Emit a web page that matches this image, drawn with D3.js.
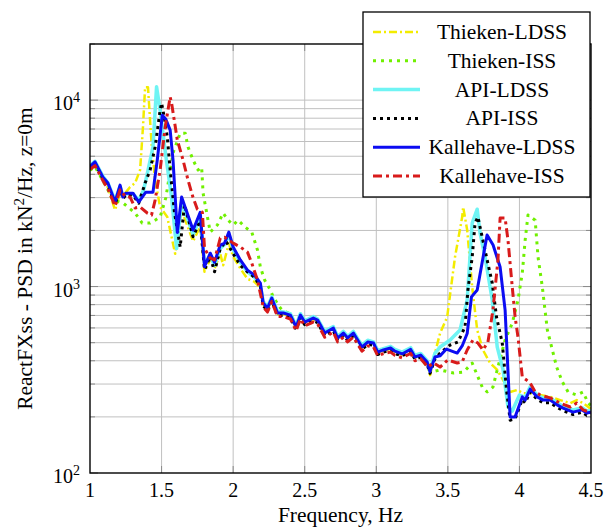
<!DOCTYPE html>
<html>
<head>
<meta charset="utf-8">
<script src="https://cdn.jsdelivr.net/npm/d3@7"></script>
<style>
  body { margin: 0; background: #fff; }
  svg { display: block; }
  text { font-family: "Liberation Serif", "Times New Roman", Times, serif; }
</style>
</head>
<body>
<div id="chart"></div>
<script>
// tick values
const xTicks = [1, 1.5, 2, 2.5, 3, 3.5, 4, 4.5];
const yMajor = [100, 1000, 10000];
const seriesNames = ["Thieken-LDSS", "Thieken-ISS", "API-LDSS", "API-ISS", "Kallehave-LDSS", "Kallehave-ISS"];

// [frequency Hz, PSD kN^2/Hz]
const thiekenLDSS = [[1.00,4300],[1.035,4550],[1.09,3750],[1.125,3400],[1.175,2570],[1.21,3170],[1.25,3200],[1.28,3420],[1.315,3590],[1.35,4220],[1.37,7160],[1.385,11740],[1.405,11740],[1.43,5880],[1.455,3720],[1.49,2670],[1.54,2360],[1.595,1500],[1.64,2570],[1.72,1750],[1.77,2100],[1.80,1200],[1.84,1400],[1.87,1250],[1.91,1500],[1.93,1300],[1.97,1700],[2.00,1450],[2.05,1250],[2.10,1100],[2.15,1060],[2.19,980],[2.21,800],[2.24,755],[2.27,850],[2.31,710],[2.35,712],[2.40,695],[2.44,600],[2.47,695],[2.50,640],[2.56,670],[2.59,655],[2.64,558],[2.70,592],[2.73,524],[2.77,558],[2.80,525],[2.84,558],[2.87,512],[2.90,470],[2.94,500],[2.98,494],[3.01,442],[3.05,452],[3.10,463],[3.13,446],[3.18,432],[3.24,456],[3.27,416],[3.31,426],[3.355,392],[3.376,335],[3.41,440],[3.446,563],[3.495,686],[3.55,1440],[3.60,2360],[3.607,2670],[3.635,2010],[3.67,994],[3.705,585],[3.745,457],[3.795,389],[3.845,357],[3.886,315],[3.935,272],[3.985,279],[4.026,268],[4.096,268],[4.145,262],[4.215,256],[4.285,246],[4.355,237],[4.40,246],[4.445,237],[4.49,223],[4.50,222]];

const thiekenISS = [[1.00,4200],[1.035,4400],[1.09,3700],[1.125,3300],[1.16,2910],[1.23,2810],[1.315,2480],[1.365,2190],[1.42,2190],[1.455,2270],[1.49,2360],[1.53,3000],[1.58,5200],[1.63,6650],[1.665,6650],[1.685,5600],[1.72,4770],[1.755,4220],[1.78,4370],[1.79,3170],[1.84,1960],[1.89,2140],[1.93,2480],[1.965,2270],[2.00,2140],[2.035,2270],[2.085,2080],[2.13,1960],[2.17,1570],[2.19,1273],[2.22,1084],[2.26,958],[2.28,879],[2.33,767],[2.35,740],[2.40,715],[2.44,620],[2.47,710],[2.50,650],[2.56,685],[2.59,665],[2.64,570],[2.70,605],[2.73,535],[2.77,570],[2.80,535],[2.84,570],[2.87,520],[2.90,480],[2.94,510],[2.98,500],[3.01,450],[3.05,460],[3.10,470],[3.13,452],[3.18,440],[3.24,462],[3.27,420],[3.31,430],[3.36,360],[3.40,350],[3.446,357],[3.54,344],[3.61,348],[3.67,389],[3.705,335],[3.74,289],[3.775,272],[3.815,289],[3.85,370],[3.90,517],[3.95,637],[3.99,847],[4.02,1180],[4.04,1775],[4.06,2420],[4.11,2270],[4.13,1440],[4.16,994],[4.195,585],[4.23,457],[4.26,370],[4.30,308],[4.34,272],[4.40,262],[4.445,272],[4.48,237],[4.50,230]];

const apiLDSS = [[1.00,4450],[1.035,4700],[1.09,3900],[1.125,3600],[1.175,2900],[1.21,3450],[1.23,3050],[1.25,3150],[1.30,3150],[1.34,2900],[1.375,3300],[1.405,4200],[1.44,5600],[1.465,11800],[1.49,8800],[1.53,5000],[1.57,3000],[1.605,1600],[1.64,2850],[1.72,1900],[1.77,2350],[1.80,1350],[1.84,1450],[1.87,1300],[1.91,1600],[1.94,1680],[1.97,1900],[2.00,1580],[2.05,1350],[2.10,1200],[2.15,1120],[2.19,1020],[2.21,830],[2.24,780],[2.27,880],[2.31,735],[2.35,730],[2.40,715],[2.44,620],[2.47,715],[2.50,655],[2.56,690],[2.59,670],[2.64,575],[2.70,610],[2.73,540],[2.77,575],[2.80,540],[2.84,575],[2.87,525],[2.90,485],[2.94,515],[2.98,505],[3.01,455],[3.05,465],[3.10,478],[3.13,460],[3.18,445],[3.24,470],[3.27,428],[3.31,438],[3.355,400],[3.375,355],[3.41,440],[3.446,474],[3.516,517],[3.585,585],[3.635,847],[3.67,2190],[3.705,2600],[3.725,1935],[3.76,1440],[3.81,847],[3.845,474],[3.886,357],[3.92,226],[3.95,215],[4.00,262],[4.04,255],[4.075,290],[4.124,262],[4.166,252],[4.215,252],[4.263,238],[4.305,228],[4.375,218],[4.438,224],[4.47,215],[4.50,216]];

const apiISS = [[1.00,4350],[1.035,4600],[1.09,3800],[1.125,3500],[1.175,2750],[1.21,3400],[1.23,2950],[1.25,3100],[1.30,3100],[1.34,2800],[1.385,3590],[1.42,4220],[1.455,5600],[1.49,8840],[1.50,9640],[1.52,8000],[1.54,6340],[1.56,4220],[1.59,2500],[1.63,1630],[1.66,2750],[1.72,1850],[1.77,2250],[1.80,1230],[1.84,1450],[1.87,1200],[1.91,1600],[1.95,1750],[1.97,1650],[2.00,1500],[2.05,1300],[2.10,1200],[2.15,1120],[2.19,1000],[2.21,790],[2.24,740],[2.27,840],[2.31,700],[2.35,700],[2.40,680],[2.44,590],[2.47,680],[2.50,625],[2.56,655],[2.59,640],[2.64,545],[2.70,580],[2.73,515],[2.77,545],[2.80,515],[2.84,545],[2.87,500],[2.90,460],[2.94,490],[2.98,485],[3.01,432],[3.05,445],[3.10,455],[3.13,437],[3.18,425],[3.24,448],[3.27,408],[3.31,418],[3.355,384],[3.375,342],[3.41,410],[3.446,440],[3.516,486],[3.57,504],[3.62,607],[3.64,958],[3.67,1440],[3.69,2190],[3.71,2360],[3.74,1840],[3.77,1440],[3.81,1044],[3.84,686],[3.88,498],[3.91,279],[3.935,192],[3.97,195],[4.02,248],[4.04,238],[4.075,272],[4.124,248],[4.166,238],[4.215,238],[4.263,225],[4.305,216],[4.375,206],[4.438,212],[4.47,204],[4.50,206]];

const kallehaveLDSS = [[1.00,4400],[1.035,4660],[1.09,3860],[1.125,3590],[1.175,2840],[1.21,3500],[1.23,3020],[1.25,3170],[1.30,3170],[1.34,2840],[1.39,3210],[1.44,3210],[1.47,4770],[1.505,8300],[1.53,7900],[1.56,6900],[1.58,4770],[1.61,1950],[1.64,3020],[1.72,2010],[1.77,2500],[1.80,1280],[1.84,1510],[1.87,1350],[1.91,1670],[1.94,1710],[1.97,1960],[2.00,1630],[2.05,1390],[2.10,1225],[2.15,1150],[2.19,1044],[2.21,816],[2.24,767],[2.27,867],[2.31,721],[2.35,721],[2.40,703],[2.44,607],[2.47,703],[2.50,645],[2.56,678],[2.59,661],[2.64,563],[2.70,599],[2.73,529],[2.77,563],[2.80,530],[2.84,563],[2.87,517],[2.90,474],[2.94,504],[2.98,498],[3.01,445],[3.05,457],[3.10,468],[3.13,450],[3.18,435],[3.24,460],[3.27,419],[3.31,429],[3.355,394],[3.375,350],[3.41,419],[3.445,425],[3.49,462],[3.565,440],[3.60,480],[3.635,560],[3.665,880],[3.705,958],[3.774,1890],[3.816,1670],[3.865,1273],[3.90,748],[3.935,200],[3.97,200],[4.02,256],[4.04,246],[4.075,282],[4.124,256],[4.166,246],[4.215,246],[4.263,232],[4.305,223],[4.375,212],[4.438,218],[4.47,210],[4.50,212]];

const kallehaveISS = [[1.00,4250],[1.035,4450],[1.09,3700],[1.125,3350],[1.175,2700],[1.21,3300],[1.25,3020],[1.28,3020],[1.315,2640],[1.35,2670],[1.40,2480],[1.43,2420],[1.455,2910],[1.49,4220],[1.525,7160],[1.56,10400],[1.57,9640],[1.61,6110],[1.63,5400],[1.65,4770],[1.685,3720],[1.72,3000],[1.75,2600],[1.785,2500],[1.80,1600],[1.84,1420],[1.87,1390],[1.91,1820],[1.94,1840],[2.00,1710],[2.05,1630],[2.10,1530],[2.13,1336],[2.17,1084],[2.20,847],[2.21,776],[2.24,730],[2.27,830],[2.31,690],[2.35,690],[2.40,670],[2.44,580],[2.47,670],[2.50,615],[2.56,645],[2.59,630],[2.64,535],[2.70,570],[2.73,505],[2.77,535],[2.80,505],[2.84,535],[2.87,490],[2.90,450],[2.94,480],[2.98,475],[3.01,425],[3.05,437],[3.10,445],[3.13,428],[3.18,415],[3.24,438],[3.27,400],[3.31,410],[3.36,370],[3.40,390],[3.446,370],[3.50,404],[3.565,389],[3.60,394],[3.635,457],[3.675,517],[3.71,498],[3.745,457],[3.78,504],[3.815,748],[3.85,1387],[3.865,2330],[3.90,2330],[3.92,1775],[3.95,994],[3.97,686],[3.99,536],[4.02,327],[4.05,315],[4.075,304],[4.11,272],[4.145,262],[4.215,253],[4.285,237],[4.355,226],[4.40,237],[4.445,218],[4.49,212],[4.50,212]];

const seriesData = [thiekenLDSS, thiekenISS, apiLDSS, apiISS, kallehaveLDSS, kallehaveISS];

// line styles, same order as seriesNames
const lineStyles = [
    { color: "#f3ec00", width: 2.5, dash: "8,3,2,3" },
    { color: "#70f000", width: 3, dash: "3,5" },
    { color: "#6ff4f4", width: 3.5, dash: null },
    { color: "#000000", width: 3, dash: "3,4" },
    { color: "#0c0cf2", width: 3, dash: null },
    { color: "#d81b1b", width: 3, dash: "9,4,3,4" }
];

const fontFamily = "Liberation Serif, Times New Roman, Times, serif";

const margin = { top: 44, right: 14, bottom: 59, left: 90 };
const width = 605 - margin.left - margin.right;
const height = 532 - margin.top - margin.bottom;

const svg = d3.select("#chart").append("svg")
    .attr("width", 605)
    .attr("height", 532)
    .attr("font-family", fontFamily);
const g = svg.append("g")
    .attr("transform", "translate(" + margin.left + "," + margin.top + ")");

const x = d3.scaleLinear().domain([1, 4.5]).range([0, width]);
const y = d3.scaleLog().domain([100, 20000]).range([height, 0]);

// all log ticks 1..9 per decade
const yAll = y.ticks().filter(v => v >= 100 && v <= 20000);

// grid
g.append("g").selectAll("line")
    .data(xTicks.slice(1, -1))
    .enter().append("line")
    .attr("x1", d => x(d)).attr("x2", d => x(d))
    .attr("y1", 0).attr("y2", height)
    .attr("stroke", "#c0c0c0").attr("stroke-width", 1);
g.append("g").selectAll("line")
    .data(yAll.filter(v => v > 100 && v < 20000))
    .enter().append("line")
    .attr("x1", 0).attr("x2", width)
    .attr("y1", d => y(d)).attr("y2", d => y(d))
    .attr("stroke", "#c0c0c0").attr("stroke-width", 1);

// inward ticks on all four sides
const tickCol = "#8a8a8a";
xTicks.slice(1, -1).forEach(t => {
    g.append("line").attr("x1", x(t)).attr("x2", x(t)).attr("y1", height).attr("y2", height - 7).attr("stroke", tickCol);
    g.append("line").attr("x1", x(t)).attr("x2", x(t)).attr("y1", 0).attr("y2", 7).attr("stroke", tickCol);
});
yAll.forEach(v => {
    const len = yMajor.includes(v) ? 8 : 5;
    g.append("line").attr("x1", 0).attr("x2", len).attr("y1", y(v)).attr("y2", y(v)).attr("stroke", tickCol);
    g.append("line").attr("x1", width).attr("x2", width - len).attr("y1", y(v)).attr("y2", y(v)).attr("stroke", tickCol);
});

// series
g.append("clipPath").attr("id", "clip")
    .append("rect").attr("width", width).attr("height", height);

const line = d3.line()
    .x(d => x(d[0]))
    .y(d => y(d[1]));

const plot = g.append("g").attr("clip-path", "url(#clip)");
seriesData.forEach((data, i) => {
    const st = lineStyles[i];
    plot.append("path")
        .datum(data)
        .attr("fill", "none")
        .attr("stroke", st.color)
        .attr("stroke-width", st.width)
        .attr("stroke-linejoin", "round")
        .attr("stroke-dasharray", st.dash)
        .attr("d", line);
});

// frame
g.append("rect")
    .attr("width", width).attr("height", height)
    .attr("fill", "none").attr("stroke", "#000").attr("stroke-width", 1.4);

// x tick labels
g.append("g").selectAll("text")
    .data(xTicks)
    .enter().append("text")
    .attr("x", d => x(d))
    .attr("y", height + 24)
    .attr("text-anchor", "middle")
    .attr("font-size", 20)
    .text(d => d);

// y tick labels 10^n
yMajor.forEach(v => {
    const t = g.append("text")
        .attr("x", -10)
        .attr("y", y(v) + 10)
        .attr("text-anchor", "end")
        .attr("font-size", 20);
    t.append("tspan").text("10");
    t.append("tspan").attr("dy", -8).attr("font-size", 14).text(Math.round(Math.log10(v)));
});

// axis titles
svg.append("text")
    .attr("x", margin.left + width / 2)
    .attr("y", 522)
    .attr("text-anchor", "middle")
    .attr("font-size", 21.5)
    .text("Frequency, Hz");

const yl = svg.append("text")
    .attr("transform", "translate(32," + (margin.top + height / 2) + ") rotate(-90)")
    .attr("text-anchor", "middle")
    .attr("font-size", 21.5);
yl.append("tspan").text("ReactFXss - PSD in kN");
yl.append("tspan").attr("dy", -8).attr("font-size", 15).text("2");
yl.append("tspan").attr("dy", 8).text("/Hz, z=0m");

// legend
const legend = svg.append("g").attr("transform", "translate(363,12)");
legend.append("rect")
    .attr("width", 227).attr("height", 185)
    .attr("fill", "#fff").attr("stroke", "#000").attr("stroke-width", 1.3);
seriesNames.forEach((name, i) => {
    const st = lineStyles[i];
    const ly = 20 + i * 28.8;
    legend.append("line")
        .attr("x1", 10).attr("x2", 57)
        .attr("y1", ly).attr("y2", ly)
        .attr("stroke", st.color)
        .attr("stroke-width", st.width)
        .attr("stroke-dasharray", st.dash);
    legend.append("text")
        .attr("x", 139).attr("y", ly + 7)
        .attr("text-anchor", "middle")
        .attr("font-size", 21.5)
        .text(name);
});
</script>
</body>
</html>
